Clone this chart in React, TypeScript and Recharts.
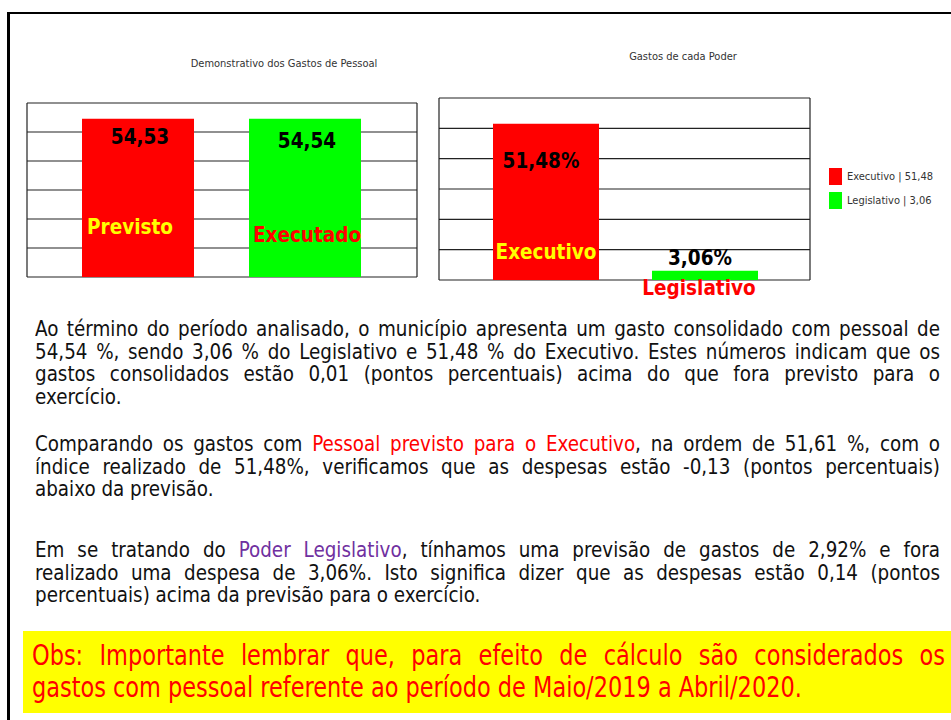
import { BarChart, Bar, XAxis, YAxis, CartesianGrid, LabelList, Cell, Legend } from 'recharts';

// Demonstrativo dos Gastos de Pessoal
const gastosCategorias = ['Previsto', 'Executado'];
const gastosValores = [54.53, 54.54];
const gastosRotulos = ['54,53', '54,54'];

// Gastos de cada Poder
const poderCategorias = ['Executivo', 'Legislativo'];
const poderValores = [51.48, 3.06];
const poderRotulos = ['51,48%', '3,06%'];
const legendaRotulos = ['Executivo | 51,48', 'Legislativo | 3,06'];

const yTicks = [0, 10, 20, 30, 40, 50, 60];

const corBarra = ['#ff0000', '#00ff00'];
const corNome = ['#ffff00', '#ff0000'];

const gastosData = gastosCategorias.map((nome, i) => ({ nome, valor: gastosValores[i], rotulo: gastosRotulos[i] }));
const poderData = poderCategorias.map((nome, i) => ({ nome, valor: poderValores[i], rotulo: poderRotulos[i] }));

type Seg = { t: string; c?: string };

const paragrafo1: Seg[][] = [
  [{ t: 'Ao término do período analisado, o município apresenta um gasto consolidado com pessoal de' }],
  [{ t: '54,54 %, sendo 3,06 % do Legislativo e 51,48 % do Executivo. Estes números indicam que os' }],
  [{ t: 'gastos consolidados estão 0,01 (pontos percentuais) acima do que fora previsto para o' }],
  [{ t: 'exercício.' }],
];
const paragrafo2: Seg[][] = [
  [{ t: 'Comparando os gastos com ' }, { t: 'Pessoal previsto para o Executivo', c: '#ff0000' }, { t: ', na ordem de 51,61 %, com o' }],
  [{ t: 'índice realizado de 51,48%, verificamos que as despesas estão -0,13 (pontos percentuais)' }],
  [{ t: 'abaixo da previsão.' }],
];
const paragrafo3: Seg[][] = [
  [{ t: 'Em se tratando do ' }, { t: 'Poder Legislativo', c: '#7030a0' }, { t: ', tínhamos uma previsão de gastos de 2,92% e fora' }],
  [{ t: 'realizado uma despesa de 3,06%. Isto significa dizer que as despesas estão 0,14 (pontos' }],
  [{ t: 'percentuais) acima da previsão para o exercício.' }],
];
const observacao: Seg[][] = [
  [{ t: 'Obs: Importante lembrar que, para efeito de cálculo são considerados os' }],
  [{ t: 'gastos com pessoal referente ao período de Maio/2019 a Abril/2020.' }],
];

const condensed = '"DejaVu Sans Condensed", "DejaVu Sans", sans-serif';
const narrow = '"Liberation Sans Narrow", "DejaVu Sans Condensed", sans-serif';

const labelStyle = { fontFamily: condensed, fontWeight: 700, fontSize: 20.5 };

const GastosValor = (props: any) => {
  const { x, y, width, value, index } = props;
  const dy = [18, 22][index] ?? 20;
  return (
    <text x={x + width / 2 + 2} y={y + dy} textAnchor="middle" dominantBaseline="central" fill="#000" style={labelStyle}>
      {value}
    </text>
  );
};

const GastosNome = (props: any) => {
  const { x, y, width, height, value, index } = props;
  const dx = [-8, 2][index] ?? 0;
  const up = [50, 42][index] ?? 45;
  return (
    <text x={x + width / 2 + dx} y={y + height - up} textAnchor="middle" dominantBaseline="central" fill={corNome[index]} style={labelStyle}>
      {value}
    </text>
  );
};

const PoderValor = (props: any) => {
  const { x, y, width, height, value } = props;
  const inside = height > 30;
  return (
    <text x={x + width / 2 - 5} y={inside ? y + 37 : y - 13} textAnchor="middle" dominantBaseline="central" fill="#000" style={labelStyle}>
      {value}
    </text>
  );
};

const PoderNome = (props: any) => {
  const { x, y, width, height, value, index } = props;
  const inside = height > 30;
  return (
    <text x={x + width / 2 + (inside ? 0 : -6)} y={inside ? y + height - 28 : y + height + 8} textAnchor="middle" dominantBaseline="central" fill={corNome[index]} style={labelStyle}>
      {value}
    </text>
  );
};

const bordas = ({ offset }: any) => [offset.left, offset.left + offset.width];

const Legenda = () => (
  <div style={{ fontFamily: narrow, fontSize: 11, color: '#333' }}>
    {legendaRotulos.map((r, i) => (
      <div key={r} style={{ display: 'flex', alignItems: 'center', height: 18, marginBottom: 6 }}>
        <span style={{ width: 13, height: 17, background: corBarra[i], marginRight: 5 }} />
        <span>{r}</span>
      </div>
    ))}
  </div>
);

function Linhas({ linhas, top, left, width, size, lh, scale, cor }: { linhas: Seg[][]; top: number; left: number; width: number; size: number; lh: number; scale: number; cor: string }) {
  return (
    <>
      {linhas.map((segs, i) => (
        <div
          key={i}
          style={{
            position: 'absolute',
            left,
            top: top + i * lh,
            width: width / scale,
            transform: `scaleX(${scale})`,
            transformOrigin: '0 0',
            fontFamily: condensed,
            fontStretch: 'condensed',
            fontSize: size,
            lineHeight: `${lh}px`,
            textAlign: 'justify',
            textAlignLast: i === linhas.length - 1 ? 'left' : 'justify',
            color: cor,
          }}
        >
          {segs.map((s, j) => (
            <span key={j} style={s.c ? { color: s.c } : undefined}>{s.t}</span>
          ))}
        </div>
      ))}
    </>
  );
}

export default function App() {
  return (
    <div style={{ position: 'absolute', left: 0, top: 0, width: 951, height: 720, background: '#fff', overflow: 'hidden', fontFamily: condensed }}>
      <div style={{ position: 'absolute', left: 7, top: 12, width: 960, height: 720, borderTop: '2px solid #000', borderLeft: '3px solid #000' }} />

      <div style={{ position: 'absolute', left: 184, top: 57, width: 200, textAlign: 'center', fontFamily: narrow, fontSize: 11, color: '#333' }}>
        Demonstrativo dos Gastos de Pessoal
      </div>
      <div style={{ position: 'absolute', left: 583, top: 50, width: 200, textAlign: 'center', fontFamily: narrow, fontSize: 11, color: '#333' }}>
        Gastos de cada Poder
      </div>

      <div style={{ position: 'absolute', left: 0, top: 40 }}>
        <BarChart width={440} height={260} data={gastosData} margin={{ top: 63, right: 23, bottom: 23, left: 27 }}>
          <CartesianGrid stroke="#222" strokeWidth={1.2} verticalCoordinatesGenerator={bordas} />
          <XAxis dataKey="nome" type="category" hide padding={{ left: 27, right: 29 }} />
          <YAxis domain={[0, 60]} ticks={yTicks} hide />
          <Bar dataKey="valor" barSize={112} isAnimationActive={false}>
            {gastosData.map((d, i) => (
              <Cell key={d.nome} fill={corBarra[i]} />
            ))}
            <LabelList dataKey="rotulo" content={GastosValor} />
            <LabelList dataKey="nome" content={GastosNome} />
          </Bar>
        </BarChart>
      </div>

      <div style={{ position: 'absolute', left: 430, top: 30 }}>
        <BarChart width={521} height={280} data={poderData} margin={{ top: 68, right: 141, bottom: 30, left: 9 }}>
          <CartesianGrid stroke="#222" strokeWidth={1.2} verticalCoordinatesGenerator={bordas} />
          <XAxis dataKey="nome" type="category" hide padding={{ left: 27, right: 26 }} />
          <YAxis domain={[0, 60]} ticks={yTicks} hide />
          <Legend layout="vertical" align="center" verticalAlign="middle" wrapperStyle={{ left: 399, top: 137, width: 120 }} content={Legenda} />
          <Bar dataKey="valor" barSize={106} isAnimationActive={false}>
            {poderData.map((d, i) => (
              <Cell key={d.nome} fill={corBarra[i]} />
            ))}
            <LabelList dataKey="rotulo" content={PoderValor} />
            <LabelList dataKey="nome" content={PoderNome} />
          </Bar>
        </BarChart>
      </div>

      <Linhas linhas={paragrafo1} top={318} left={35} width={905} size={21} lh={22.5} scale={0.97} cor="#111" />
      <Linhas linhas={paragrafo2} top={433} left={35} width={905} size={21} lh={22.5} scale={0.97} cor="#111" />
      <Linhas linhas={paragrafo3} top={539} left={35} width={905} size={21} lh={22.5} scale={0.97} cor="#111" />

      <div style={{ position: 'absolute', left: 23, top: 631, width: 940, height: 82, background: '#ffff00' }} />
      <Linhas linhas={observacao} top={639} left={32} width={913} size={29} lh={32} scale={0.86} cor="#ff0000" />
    </div>
  );
}
